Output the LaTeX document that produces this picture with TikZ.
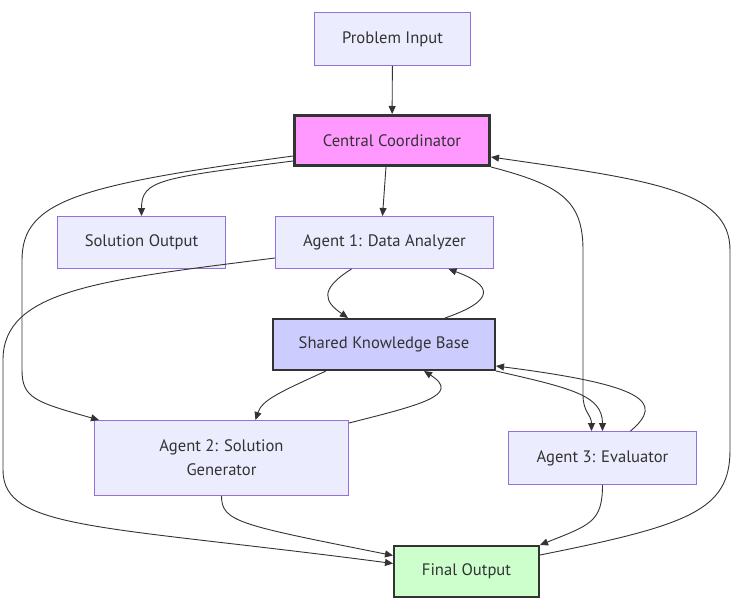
\documentclass[tikz,border=0pt]{standalone}
\usepackage{fontspec}
\setmainfont{PT Sans}
\usetikzlibrary{arrows.meta}
\definecolor{ink}{HTML}{333333}
\definecolor{agentfill}{HTML}{ECECFF}
\definecolor{agentline}{HTML}{9370DB}
\definecolor{hubfill}{HTML}{FF99FF}
\definecolor{kbfill}{HTML}{CCCCFF}
\definecolor{donefill}{HTML}{CCFFCC}
\tikzset{
    box/.style ={
        shape=rectangle,
        draw=agentline,
        fill=agentfill,
        line width=1pt,
        text=ink,
        font=\fontsize{16.6}{24}\selectfont,
        align=center,
        inner sep=0pt
    },
    hub/.style ={
        box,
        draw=ink,
        fill=hubfill,
        line width=3pt
    },
    kb/.style ={
        box,
        draw=ink,
        fill=kbfill,
        line width=2pt
    },
    done/.style ={
        box,
        draw=ink,
        fill=donefill,
        line width=2pt
    },
    link/.style ={
        draw=ink,
        line width=0.9pt,
        -{Triangle[length=8pt,width=7pt]}
    }
}
\begin{document}
\begin{tikzpicture}[x=1pt,y=-1pt]
    \useasboundingbox[fill=white] (0,0) rectangle (742,607);
    \node[box, minimum width=156pt, minimum height=53pt] (pi) at(392.5,39) {Problem Input};
    \node[hub, minimum width=195pt, minimum height=50pt] (cc) at(392,140.5) {Central Coordinator};
    \node[box, minimum width=168pt, minimum height=52pt] (so) at(141.5,242.5) {Solution Output};
    \node[box, minimum width=218pt, minimum height=52pt] (a1) at(384.5,242.5) {Agent 1: Data Analyzer};
    \node[kb, minimum width=222pt, minimum height=51pt] (kb) at(384,344.5) {Shared Knowledge Base};
    \node[box, minimum width=254pt, minimum height=75pt] (a2) at(221.5,458) {Agent 2: Solution\\Generator};
    \node[box, minimum width=188pt, minimum height=53pt] (a3) at(602.5,458) {Agent 3: Evaluator};
    \node[done, minimum width=145pt, minimum height=51pt] (fo) at(466.5,571.5) {Final Output};
    \draw[link] (pi) -- (cc);
    \draw[link] ([yshift=6pt]cc.south west) .. controls (160,178) and (141.5,180) .. (so.north);
    \draw[link] ([xshift=-6pt]cc.south) -- ([xshift=-2pt]a1.north);
    \draw[link] ([yshift=11pt]cc.south west) .. controls (80,185) and (22,200) .. (22,260)
        -- (22,370) .. controls (22,398) and (35,402) .. ([xshift=5pt]a2.north west);
    \draw[link] (cc.south east) .. controls (560,185) and (583,200) .. (583,250)
        -- (583,395) .. controls (583,412) and (591.5,415) .. ([xshift=-11pt]a3.north);
    \draw[link] ([yshift=-10pt]fo.north east) .. controls (690,525) and (730,510) .. (730,450)
        -- (730,250) .. controls (730,190) and (650,180) .. ([yshift=10pt]cc.south east);
    \draw[link] ([xshift=-33pt]a1.south) .. controls (318,290) and (325,302) .. ([xshift=-36pt]kb.north);
    \draw[link] ([xshift=61pt]kb.north) .. controls (497,300) and (492,285) .. ([xshift=64pt]a1.south);
    \draw[link] ([xshift=-58pt]kb.south) .. controls (280,392) and (262,400) .. ([xshift=34pt]a2.north);
    \draw[link] ([yshift=-3pt]a2.north east) .. controls (420,405) and (462,395) .. ([xshift=40pt]kb.south);
    \draw[link] (kb.south east) .. controls (570,388) and (602.5,395) .. (a3.north);
    \draw[link] ([xshift=28pt]a3.north) .. controls (665,402) and (645,385) .. ([yshift=5pt]kb.south east);
    \draw[link] ([yshift=11pt]a1.south west) .. controls (100,280) and (3,290) .. (3,360)
        -- (3,470) .. controls (3,530) and (100,525) .. ([yshift=8pt]fo.west);
    \draw[link] (a2.south) .. controls (221.5,522) and (240,525) .. ([yshift=16pt]fo.west);
    \draw[link] (a3.south) .. controls (602.5,522) and (590,525) .. (fo.north east);
\end{tikzpicture}
\end{document}
